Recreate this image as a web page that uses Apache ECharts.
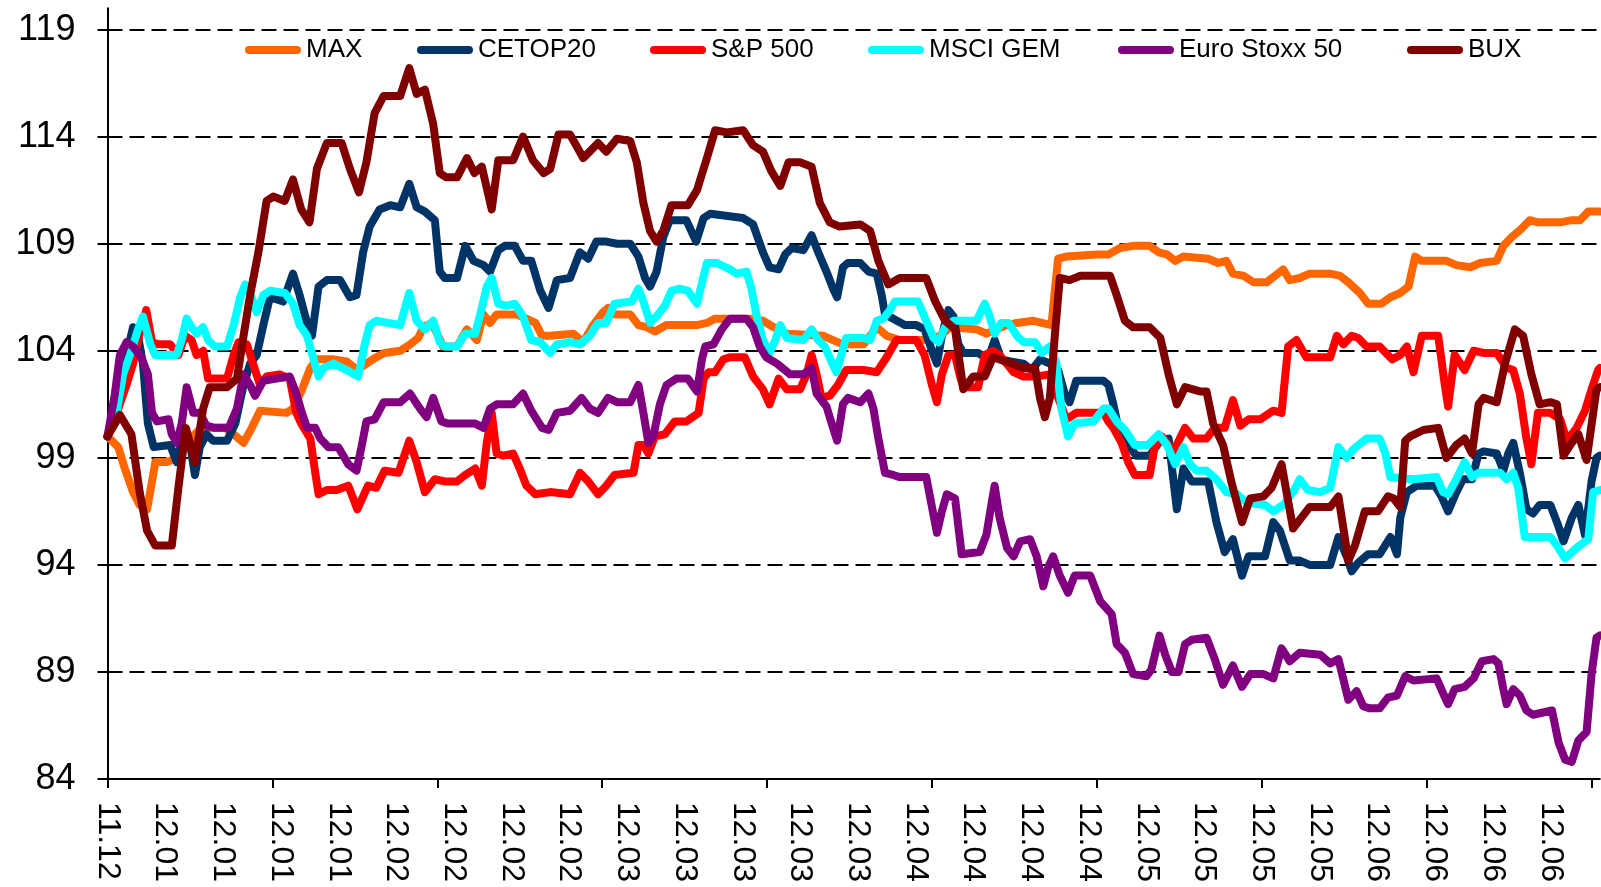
<!DOCTYPE html>
<html><head><meta charset="utf-8">
<script src="https://cdn.jsdelivr.net/npm/echarts@6/dist/echarts.min.js"></script>
<style>html,body{margin:0;padding:0;background:#fff}#c{width:1601px;height:887px}</style>
</head><body><div id="c"></div>
<script>
const seriesNames = ['MAX','CETOP20','S&P 500','MSCI GEM','Euro Stoxx 50','BUX'];
const yTicks = [84,89,94,99,104,109,114,119];
const labelDays = [0,7,14,21,28,35,42,49,56,63,70,77,84,91,98,105,112,119,126,133,140,147,154,161,168,175];
const labelTexts = ['11.12','12.01','12.01','12.01','12.01','12.02','12.02','12.02','12.02','12.03','12.03','12.03','12.03','12.03','12.04','12.04','12.04','12.04','12.05','12.05','12.05','12.05','12.06','12.06','12.06','12.06'];
const tickDays = [0,20,40,60,80,100,120,140,160,180];

const maxData = [[0,100],[1.3,99.5],[2.1,98.5],[3.1,97.4],[3.9,96.8],[4.8,96.6],[5.4,97.9],[5.8,98.8],[7.2,98.8],[8.4,99.0],[9.6,99.7],[10.6,100.1],[11.6,100.5],[12.4,100.4],[14.3,100.4],[15.3,100.1],[16.5,99.7],[17.5,100.4],[18.5,101.2],[21.7,101.1],[22.5,101.3],[23.5,102.1],[24.6,103.2],[25.4,103.6],[27.4,103.6],[29.0,103.5],[30.3,103.1],[31.4,103.4],[32.6,103.7],[33.6,103.9],[35.5,104.0],[36.7,104.3],[37.7,104.6],[38.3,105.1],[39.3,105.3],[40.1,104.7],[40.7,104.2],[42.4,104.2],[43.6,105.0],[44.8,104.5],[45.6,105.7],[46.4,105.3],[47.2,105.7],[49.6,105.7],[50.8,105.5],[51.9,105.3],[52.7,104.7],[53.7,104.7],[56.5,104.8],[57.7,104.4],[58.9,105.2],[60.1,105.8],[60.7,106.0],[61.5,105.7],[63.4,105.7],[64.4,105.2],[65.4,105.1],[66.4,104.9],[67.8,105.2],[71.5,105.2],[72.7,105.3],[73.7,105.5],[77.9,105.5],[79.5,105.4],[80.8,105.1],[82.4,104.8],[86.8,104.7],[88.0,104.5],[89.2,104.3],[91.7,104.3],[92.5,104.7],[93.3,105.1],[94.5,104.7],[96.1,104.5],[99.8,104.5],[101.0,104.7],[102.2,105.1],[105.4,105.0],[106.6,104.8],[107.8,105.0],[109.1,105.2],[110.3,105.3],[112.3,105.4],[114.5,105.2],[114.9,106.8],[115.3,108.3],[116.3,108.4],[120.0,108.5],[121.4,108.5],[122.8,108.8],[124.4,108.9],[126.4,108.9],[127.5,108.6],[128.5,108.5],[129.5,108.2],[130.5,108.4],[133.5,108.3],[134.7,108.1],[135.7,108.2],[136.5,107.6],[137.8,107.5],[139.0,107.2],[140.6,107.2],[141.6,107.5],[142.6,107.8],[143.4,107.3],[144.6,107.4],[145.8,107.6],[148.3,107.6],[149.5,107.5],[150.5,107.2],[151.9,106.7],[152.9,106.2],[154.5,106.2],[155.6,106.5],[156.8,106.7],[157.8,107.0],[158.6,108.4],[159.4,108.2],[162.4,108.2],[163.6,108.0],[165.3,107.9],[166.5,108.1],[168.5,108.2],[169.3,108.9],[170.3,109.3],[171.5,109.7],[172.5,110.1],[173.5,110.0],[176.2,110.0],[177.6,110.1],[178.6,110.1],[179.6,110.5],[181,110.5]];

const cetopData = [[0,100],[1.5,102.0],[2.3,103.8],[3.1,105.1],[3.7,104.7],[4.3,103.4],[4.9,100.6],[5.6,99.5],[7.6,99.6],[8.4,98.8],[9.2,100.1],[10.0,99.7],[10.6,98.2],[11.2,99.5],[12.0,100.1],[12.8,99.8],[14.5,99.8],[15.5,100.6],[16.5,102.4],[17.3,103.4],[18.1,103.8],[18.9,105.2],[19.7,106.5],[21.3,106.3],[22.5,107.6],[23.3,106.6],[24.2,105.3],[24.8,104.7],[25.6,107.0],[26.6,107.3],[28.2,107.3],[29.4,106.5],[30.2,106.6],[31.0,108.6],[31.8,109.8],[33.0,110.6],[34.3,110.8],[35.5,110.7],[36.6,111.8],[37.5,110.7],[38.5,110.5],[39.7,110.1],[40.3,107.7],[40.9,107.4],[42.4,107.4],[43.4,108.9],[44.4,108.2],[45.6,108.0],[46.4,107.7],[47.4,108.7],[48.2,108.9],[49.4,108.9],[50.4,108.2],[51.4,108.2],[52.5,106.8],[53.5,106.0],[54.5,107.3],[56.1,107.4],[57.3,108.6],[58.3,108.3],[59.3,109.1],[60.5,109.1],[61.8,109.0],[63.4,109.0],[64.4,108.4],[65.2,107.4],[65.8,107.0],[66.6,107.7],[67.4,109.3],[68.2,110.1],[70.2,110.1],[71.4,109.1],[72.3,110.2],[73.1,110.4],[77.1,110.2],[78.3,109.9],[79.5,108.6],[80.3,107.9],[81.4,107.8],[82.2,108.5],[83.0,108.8],[84.4,108.7],[85.4,109.4],[86.2,108.6],[87.2,107.7],[88.0,106.9],[88.5,106.5],[89.2,107.9],[89.8,108.1],[91.3,108.1],[92.3,107.7],[93.3,107.6],[93.9,106.6],[94.3,105.7],[95.3,105.5],[96.7,105.2],[98.1,105.2],[99.1,105.0],[100.0,104.0],[100.6,103.4],[101.2,104.7],[102.0,105.9],[102.6,105.6],[103.2,104.3],[103.8,103.9],[105.6,103.9],[106.8,103.6],[107.6,104.5],[108.4,103.6],[109.5,103.5],[111.1,103.4],[112.1,103.1],[113.1,103.6],[114.3,103.4],[115.3,103.1],[116.1,102.0],[116.7,101.6],[117.5,102.6],[120.8,102.6],[121.4,102.4],[122.0,101.5],[122.6,100.4],[123.6,99.7],[124.8,99.1],[126.4,99.1],[127.7,99.8],[128.7,99.9],[129.3,97.9],[129.7,96.6],[130.5,98.5],[131.5,97.9],[133.5,97.9],[134.5,96.0],[135.5,94.6],[136.5,95.2],[137.6,93.5],[138.4,94.4],[140.4,94.4],[141.4,96.0],[142.2,95.6],[143.4,94.2],[144.6,94.2],[145.8,94.0],[148.3,94.0],[149.3,95.3],[150.3,94.4],[150.9,93.7],[151.7,94.1],[152.9,94.5],[154.3,94.5],[155.6,95.3],[156.4,94.5],[156.8,96.2],[157.6,97.4],[158.8,97.7],[161.0,97.7],[161.8,97.2],[162.6,96.5],[163.6,97.4],[164.4,98.0],[165.5,98.0],[166.3,99.2],[166.9,99.3],[168.5,99.2],[169.3,98.4],[169.9,99.2],[170.5,99.7],[171.3,98.3],[172.1,96.6],[172.9,96.4],[173.7,96.8],[175.0,96.8],[175.8,96.0],[176.6,95.1],[177.6,96.2],[178.4,96.8],[179.2,95.4],[180.0,97.9],[180.6,99.0],[181,99.1]];

const spData = [[0,100],[1.3,101.3],[2.3,102.4],[3.1,103.4],[3.7,104.5],[4.7,105.9],[5.4,104.4],[6.2,104.3],[7.6,104.3],[8.6,103.8],[9.4,104.7],[10.2,104.5],[10.8,103.8],[11.6,104.0],[12.2,102.7],[14.5,102.7],[15.3,103.8],[15.9,104.4],[16.9,104.3],[17.9,103.1],[18.5,102.4],[19.3,102.8],[20.9,102.9],[22.1,102.7],[22.9,101.1],[23.5,100.6],[24.6,99.9],[25.2,98.3],[25.6,97.3],[26.6,97.5],[27.8,97.5],[29.2,97.7],[30.3,96.6],[31.6,97.7],[32.6,97.6],[33.6,98.4],[35.3,98.3],[36.6,99.8],[37.5,98.8],[38.5,97.4],[39.7,98.0],[40.9,97.9],[42.4,97.9],[43.4,98.2],[44.6,98.5],[45.4,97.7],[46.0,99.7],[46.6,101.1],[47.2,99.2],[48.0,99.1],[49.2,99.2],[50.0,98.5],[50.8,97.7],[51.9,97.3],[53.7,97.4],[56.1,97.3],[57.3,98.3],[58.3,97.9],[59.5,97.3],[60.5,97.7],[61.5,98.2],[63.8,98.3],[64.4,99.6],[65.0,99.6],[65.6,99.2],[66.4,100.0],[67.6,100.1],[68.8,100.7],[70.2,100.7],[71.7,101.1],[72.3,102.7],[72.9,103.0],[73.7,103.0],[74.7,103.6],[75.5,103.7],[77.3,103.7],[78.3,102.8],[79.5,102.2],[80.3,101.5],[81.4,102.7],[82.4,102.2],[84.0,102.2],[84.8,102.9],[85.4,103.8],[86.0,102.9],[86.6,101.8],[87.6,101.9],[88.6,102.4],[89.6,103.1],[91.7,103.1],[93.3,103.0],[94.5,103.7],[95.7,104.5],[98.1,104.5],[99.1,103.8],[100.0,102.4],[100.6,101.6],[101.2,102.9],[102.0,103.8],[102.8,103.8],[103.4,102.8],[103.8,102.3],[105.6,102.3],[106.4,103.8],[107.4,104.0],[108.2,103.8],[109.9,103.0],[111.1,102.8],[112.7,102.8],[114.3,102.9],[115.1,102.0],[116.3,100.8],[117.5,101.1],[120.8,101.1],[121.4,100.7],[122.0,100.4],[123.0,99.7],[123.8,98.8],[124.6,98.2],[126.4,98.2],[127.0,99.5],[127.9,100.0],[128.5,99.7],[129.3,99.3],[130.7,100.4],[131.7,99.9],[133.3,99.9],[134.3,100.4],[135.5,100.4],[136.5,101.7],[137.4,100.5],[138.4,100.8],[139.8,100.8],[141.4,101.2],[142.4,101.1],[143.2,104.2],[144.2,104.5],[145.4,103.7],[148.3,103.7],[149.1,104.7],[149.9,104.3],[150.9,104.7],[151.7,104.6],[152.7,104.2],[154.3,104.2],[155.8,103.6],[156.8,103.8],[157.6,104.2],[158.4,103.0],[159.4,104.7],[161.4,104.7],[162.2,102.4],[162.6,101.4],[163.4,103.8],[164.6,103.1],[165.7,104.0],[166.9,103.9],[168.5,103.9],[169.7,103.2],[170.5,103.1],[171.3,102.0],[172.1,99.9],[172.7,98.7],[173.5,101.1],[175.0,101.1],[176.2,100.8],[177.0,99.8],[178.2,100.4],[179.2,101.2],[180.0,102.2],[180.8,103.1],[181,103.2]];

const msciData = [[0,100],[1.1,101.1],[1.9,102.9],[2.9,104.0],[3.7,105.0],[4.3,105.6],[5.2,104.3],[5.8,103.8],[8.4,103.8],[9.0,104.5],[9.6,105.5],[10.2,105.1],[10.8,104.8],[11.6,105.1],[12.2,104.5],[13.0,104.2],[14.5,104.2],[15.3,105.2],[16.1,106.5],[16.7,107.1],[17.3,106.7],[18.1,105.8],[18.9,106.6],[19.7,106.8],[21.5,106.7],[22.5,106.2],[23.3,105.2],[24.2,104.7],[25.0,103.6],[25.6,102.8],[26.2,103.2],[27.4,103.4],[29.0,103.1],[30.4,102.8],[31.2,104.3],[31.8,105.2],[32.6,105.4],[35.5,105.2],[36.6,106.7],[37.5,105.4],[38.5,105.0],[39.5,105.4],[40.3,104.4],[40.9,104.2],[42.4,104.2],[43.4,104.8],[44.6,104.8],[45.4,106.0],[46.0,107.0],[46.6,107.4],[47.4,106.2],[48.4,106.1],[49.4,106.2],[50.4,105.6],[51.4,104.5],[52.5,104.4],[53.7,103.9],[54.5,104.3],[56.1,104.4],[57.3,104.3],[58.5,104.7],[59.5,105.3],[60.5,105.3],[61.5,106.2],[63.6,106.3],[64.4,106.9],[65.0,106.3],[65.8,105.3],[66.8,105.7],[67.6,106.1],[68.4,106.8],[69.4,106.9],[70.4,106.8],[71.5,106.2],[72.3,107.5],[72.7,108.1],[73.9,108.1],[75.5,107.8],[76.3,107.6],[77.5,107.7],[78.1,106.9],[78.7,105.7],[79.5,104.5],[80.3,103.9],[81.0,104.5],[81.6,105.2],[82.4,104.6],[84.4,104.5],[85.4,105.0],[86.2,104.5],[87.0,104.2],[87.8,103.5],[88.4,103.0],[89.0,103.8],[89.6,104.6],[91.7,104.6],[92.5,104.5],[93.3,105.4],[94.1,105.5],[94.9,105.9],[95.5,106.3],[98.3,106.3],[99.3,105.4],[100.2,104.6],[100.8,104.4],[101.6,105.1],[102.6,105.4],[105.4,105.4],[106.4,106.2],[107.0,105.6],[107.6,104.8],[108.4,105.3],[109.3,105.3],[110.3,104.7],[111.1,104.4],[112.5,104.4],[113.3,103.9],[114.3,104.2],[115.1,103.4],[115.7,101.3],[116.5,100.0],[117.3,100.6],[119.6,100.7],[120.8,101.3],[121.4,101.3],[122.4,100.7],[123.4,100.3],[124.6,99.6],[126.2,99.6],[127.5,100.1],[128.5,99.6],[129.5,98.7],[130.5,99.5],[131.3,98.7],[132.1,98.4],[133.3,98.4],[134.5,98.0],[135.7,97.4],[137.0,97.3],[138.2,96.9],[140.4,96.8],[141.4,96.5],[142.6,96.8],[143.8,97.4],[144.6,98.0],[145.6,97.5],[147.1,97.4],[148.3,97.6],[149.3,99.5],[150.3,99.0],[151.1,99.4],[152.7,99.9],[154.3,99.9],[155.0,99.2],[155.6,98.1],[158.4,98.0],[161.2,98.1],[162.0,97.4],[162.6,97.3],[163.6,98.0],[164.6,98.8],[165.5,98.1],[166.3,98.3],[168.9,98.3],[169.7,98.0],[170.5,98.3],[171.1,97.6],[171.9,95.3],[175.0,95.3],[175.8,94.9],[176.8,94.3],[178.2,94.8],[179.6,95.2],[180.2,97.4],[181,97.5]];

const euroData = [[0,100],[0.9,102.0],[1.5,103.8],[2.3,104.4],[3.1,104.2],[4.1,103.7],[4.9,102.9],[5.4,101.1],[6.0,100.7],[7.4,100.8],[7.8,100.1],[8.4,99.7],[9.0,100.6],[9.6,102.3],[10.4,101.1],[11.2,101.1],[12.0,100.5],[13.0,100.4],[14.7,100.4],[15.7,101.3],[16.5,102.9],[17.3,102.4],[17.9,101.9],[18.9,102.6],[20.5,102.7],[22.1,102.8],[22.9,102.0],[23.5,101.2],[24.2,100.4],[25.2,100.4],[25.8,99.9],[26.8,99.5],[28.0,99.5],[29.2,98.7],[30.2,98.4],[30.8,99.5],[31.4,100.7],[32.4,100.8],[33.5,101.6],[35.5,101.6],[36.7,102.0],[37.9,101.3],[38.7,100.9],[39.5,101.8],[40.5,100.7],[41.3,100.6],[44.6,100.6],[45.6,100.4],[46.4,101.3],[47.2,101.5],[49.2,101.5],[50.4,102.0],[51.4,101.2],[52.7,100.4],[53.5,100.3],[54.5,101.1],[56.1,101.2],[57.5,101.8],[58.5,101.3],[59.5,101.1],[60.7,101.8],[61.8,101.6],[63.4,101.6],[64.4,102.4],[65.0,101.1],[65.6,99.7],[66.2,100.0],[67.0,101.5],[67.8,102.4],[69.0,102.7],[70.4,102.7],[71.5,102.1],[72.1,103.6],[72.5,104.2],[73.5,104.3],[74.5,105.0],[75.5,105.5],[77.5,105.5],[78.3,105.1],[79.1,104.2],[79.9,103.7],[81.2,103.4],[82.8,102.9],[84.4,102.9],[85.4,103.2],[86.0,102.0],[87.2,101.4],[88.0,100.4],[88.5,99.8],[89.2,101.5],[89.8,101.8],[91.3,101.6],[92.3,102.0],[92.9,101.3],[93.5,99.9],[94.3,98.3],[95.3,98.2],[96.1,98.1],[99.3,98.1],[100.0,96.7],[100.6,95.5],[101.2,96.5],[101.8,97.3],[102.8,97.1],[103.6,94.5],[105.8,94.6],[106.6,95.4],[107.2,96.8],[107.6,97.7],[108.2,96.2],[109.1,94.8],[109.9,94.4],[110.7,95.1],[111.9,95.2],[112.7,94.4],[113.5,93.0],[114.1,93.9],[114.7,94.4],[115.5,93.5],[116.5,92.7],[117.3,93.5],[119.2,93.5],[120.4,92.3],[121.8,91.7],[122.4,90.3],[123.4,89.9],[124.4,88.9],[126.0,88.8],[126.6,89.1],[127.6,90.7],[128.3,89.8],[129.1,89.0],[129.9,89.0],[130.7,90.3],[131.5,90.5],[133.3,90.6],[134.3,89.6],[135.3,88.4],[136.5,89.3],[137.6,88.3],[138.6,88.9],[140.2,88.9],[141.4,88.7],[142.4,90.1],[143.4,89.5],[144.6,89.9],[147.1,89.8],[148.3,89.4],[149.3,89.6],[150.5,87.7],[151.5,88.1],[152.3,87.4],[153.1,87.3],[154.3,87.3],[155.3,87.8],[156.4,87.9],[157.4,88.8],[158.4,88.6],[161.2,88.7],[162.0,88.0],[162.6,87.5],[163.4,88.2],[164.6,88.3],[165.7,88.7],[166.7,89.5],[168.1,89.6],[168.7,89.4],[169.3,88.2],[169.7,87.5],[170.5,88.2],[171.3,87.9],[172.1,87.2],[172.9,87.0],[175.2,87.2],[176.0,85.7],[176.8,84.9],[177.6,84.8],[178.4,85.8],[179.4,86.2],[180.0,88.9],[180.6,90.6],[181,90.7]];

const buxData = [[0,100],[1.5,101.0],[2.9,100.1],[3.9,97.4],[4.8,95.6],[5.8,94.9],[7.8,94.9],[8.6,97.6],[9.5,100.4],[10.6,98.8],[11.6,101.3],[12.4,102.3],[14.5,102.3],[15.7,102.7],[16.5,104.7],[17.3,106.6],[18.3,108.6],[19.3,111.0],[20.1,111.2],[21.5,111.0],[22.5,112.0],[23.5,110.6],[24.5,110.0],[25.4,112.5],[26.6,113.7],[28.4,113.7],[29.4,112.5],[30.5,111.4],[31.4,112.8],[32.4,115.1],[33.5,115.9],[35.5,115.9],[36.6,117.2],[37.5,116.0],[38.5,116.2],[39.5,114.6],[40.3,112.3],[41.1,112.1],[42.4,112.1],[43.6,113.0],[44.5,112.3],[45.4,112.6],[46.6,110.6],[47.4,112.9],[49.2,112.9],[50.4,114.0],[51.6,112.9],[52.9,112.3],[53.7,112.5],[54.7,114.1],[56.1,114.1],[57.7,113.0],[59.5,113.7],[60.5,113.3],[61.8,113.9],[63.4,113.8],[64.2,112.8],[65.0,110.9],[65.8,109.6],[66.6,109.1],[67.4,109.6],[68.4,110.8],[70.4,110.8],[71.5,111.5],[72.7,113.0],[73.7,114.3],[75.1,114.2],[77.1,114.3],[78.3,113.6],[79.5,113.3],[80.5,112.4],[81.6,111.7],[82.6,112.8],[84.0,112.8],[85.4,112.6],[86.4,110.9],[87.6,110.0],[88.8,109.8],[91.3,109.9],[92.5,109.6],[93.5,108.2],[94.7,107.1],[96.1,107.4],[99.3,107.4],[100.4,106.3],[101.6,105.4],[102.8,105.0],[103.8,102.2],[105.0,102.8],[106.4,102.8],[107.4,103.7],[108.2,103.6],[109.7,103.4],[111.1,103.2],[112.5,103.2],[113.1,101.8],[113.7,100.9],[114.3,101.8],[114.9,104.7],[115.5,107.4],[116.7,107.3],[118.0,107.5],[121.6,107.5],[122.4,106.6],[123.4,105.4],[124.4,105.1],[126.4,105.1],[127.7,104.6],[128.7,102.9],[129.7,101.5],[130.7,102.3],[132.5,102.1],[133.3,102.1],[134.1,100.6],[135.3,99.6],[136.3,97.9],[137.6,96.0],[138.6,97.1],[140.2,97.2],[141.2,97.6],[142.4,98.7],[143.0,97.4],[143.8,95.7],[144.6,96.1],[145.8,96.7],[148.3,96.7],[149.3,97.2],[150.5,94.2],[151.3,94.9],[152.5,96.5],[154.1,96.5],[155.3,97.2],[156.0,97.1],[156.8,96.7],[157.4,99.8],[158.0,100.0],[159.6,100.3],[161.4,100.4],[162.4,99.0],[163.6,99.6],[164.6,99.9],[165.5,99.2],[166.3,101.5],[166.9,101.8],[168.5,101.6],[169.5,103.4],[170.7,105.0],[171.7,104.7],[172.7,102.9],[173.7,101.5],[175.0,101.6],[175.8,101.5],[176.6,99.1],[177.6,99.7],[178.4,100.1],[179.4,98.9],[180.6,102.2],[181,102.3]];

const allData = [maxData, cetopData, spData, msciData, euroData, buxData];
const colors = ['#FF6600','#003366','#FF0000','#00FFFF','#800080','#800000'];
const legendLeft = [245,417,650,868,1118,1407];
const FONT = 'Liberation Sans';

const chart = echarts.init(document.getElementById('c'), null, {renderer:'canvas'});
chart.setOption({
  animation:false,
  backgroundColor:'#fff',
  color: colors,
  grid:{left:107.5, right:1.2, top:8.2, bottom:108, containLabel:false, outerBoundsMode:'none'},
  legend: seriesNames.map((n,i)=>({
    data:[n], left:legendLeft[i], top:37, padding:0,
    itemWidth:56, itemHeight:8, selectedMode:false,
    icon:'path://M4,0L52,0A4,4,0,0,1,52,8L4,8A4,4,0,0,1,4,0Z',
    textStyle:{fontFamily:FONT, fontSize:26, color:'#000', lineHeight:26}
  })),
  xAxis:{
    type:'value', min:0, max:181,
    axisLine:{show:true, onZero:false, lineStyle:{color:'#000', width:2}},
    axisTick:{show:true, customValues:tickDays, length:9, lineStyle:{color:'#000', width:2}},
    axisLabel:{customValues:labelDays, rotate:-90, align:'left', verticalAlign:'middle', margin:23,
      fontFamily:FONT, fontSize:32, color:'#000', hideOverlap:false,
      formatter:(v)=>{const k=labelDays.indexOf(v); return k>=0?labelTexts[k]:'';}},
    splitLine:{show:false}
  },
  yAxis:{
    type:'value', min:84, max:120,
    axisLine:{show:true, lineStyle:{color:'#000', width:2}},
    axisTick:{show:true, customValues:yTicks, length:10, lineStyle:{color:'#000', width:2}},
    axisLabel:{customValues:yTicks, align:'right', margin:32, fontFamily:FONT, fontSize:36, color:'#000'},
    splitLine:{show:true, lineStyle:{type:[15,7], color:'#000', width:2}}
  },
  series: seriesNames.map((n,i)=>({
    name:n, type:'line', data:allData[i], showSymbol:false, symbol:'none',
    itemStyle:{color:colors[i]},
    lineStyle:{color:colors[i], width:8, cap:'round', join:'round'},
    emphasis:{disabled:true},
    z:2+i
  }))
});
</script></body></html>
